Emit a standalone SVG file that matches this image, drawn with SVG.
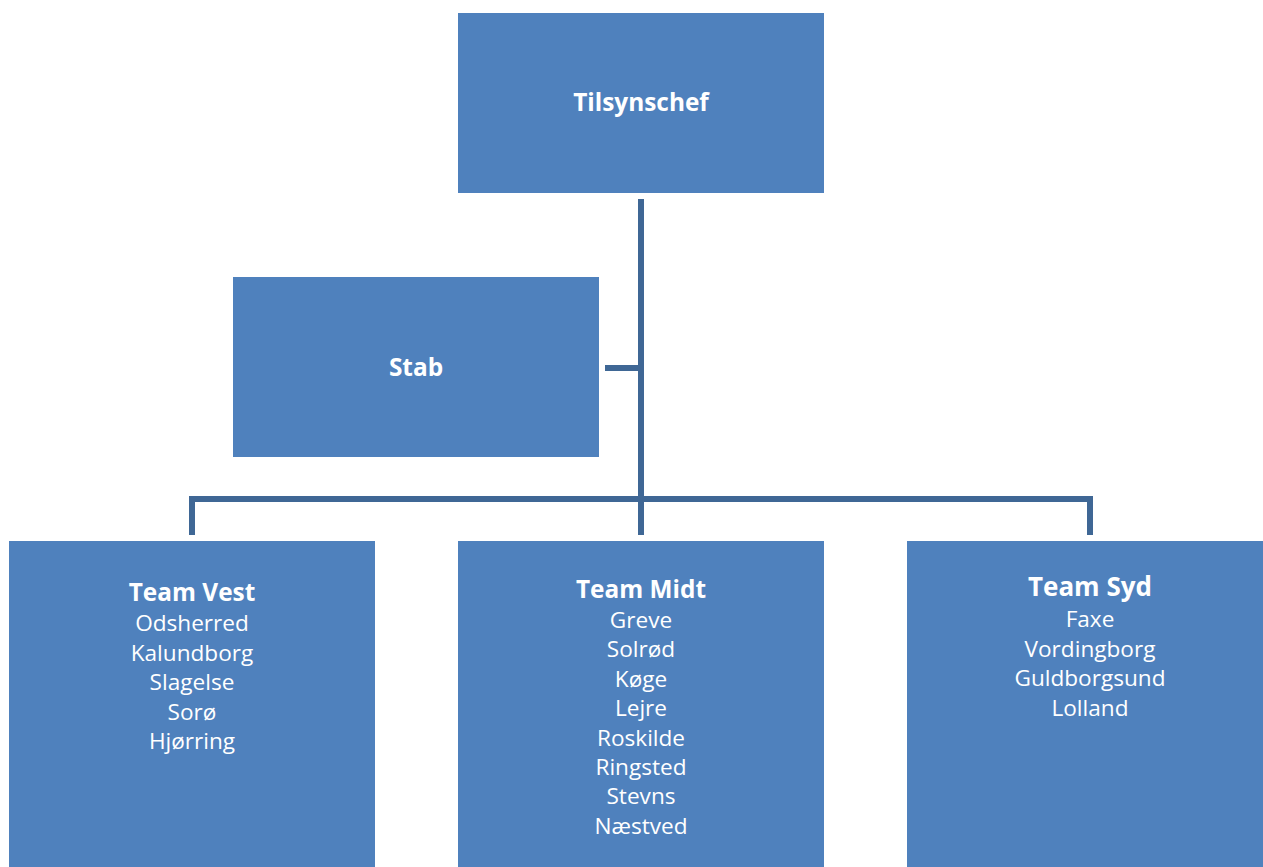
<svg xmlns="http://www.w3.org/2000/svg" width="1263" height="867" viewBox="0 0 1263 867">
<style>
.box{fill:#4F81BD;}
.t{font-family:"Open Sans","Liberation Sans",sans-serif;fill:#fff;text-anchor:middle;font-size:22.6px;}
.b{font-weight:bold;font-size:24.4px;}
.c{stroke:#3F6795;stroke-width:6;fill:none;stroke-linejoin:miter;}
</style>
<rect width="1263" height="867" fill="#fff"/>
<g id="connectors">
<path class="c" d="M641 199V535"/>
<path class="c" d="M605 368H641"/>
<path class="c" d="M192 535V499H1090V535"/>
</g>
<g id="tilsynschef">
<rect class="box" x="458" y="13" width="366" height="180"/>
<text class="t b" x="641" y="111">Tilsynschef</text>
</g>
<g id="stab">
<rect class="box" x="233" y="277" width="366" height="180"/>
<text class="t b" x="416" y="376">Stab</text>
</g>
<g id="team-vest">
<rect class="box" x="9" y="541" width="366" height="330"/>
<text class="t b" x="192" y="601">Team Vest</text>
<text class="t" x="192" y="631">Odsherred</text>
<text class="t" x="192" y="661">Kalundborg</text>
<text class="t" x="192" y="690">Slagelse</text>
<text class="t" x="192" y="720">Sorø</text>
<text class="t" x="192" y="749">Hjørring</text>
</g>
<g id="team-midt">
<rect class="box" x="458" y="541" width="366" height="330"/>
<text class="t b" x="641" y="598">Team Midt</text>
<text class="t" x="641" y="628">Greve</text>
<text class="t" x="641" y="657">Solrød</text>
<text class="t" x="641" y="687">Køge</text>
<text class="t" x="641" y="716">Lejre</text>
<text class="t" x="641" y="746">Roskilde</text>
<text class="t" x="641" y="775">Ringsted</text>
<text class="t" x="641" y="804">Stevns</text>
<text class="t" x="641" y="834">Næstved</text>
</g>
<g id="team-syd">
<rect class="box" x="907" y="541" width="366" height="330"/>
<text class="t b" x="1090" y="596" style="font-size:26px">Team Syd</text>
<text class="t" x="1090" y="627">Faxe</text>
<text class="t" x="1090" y="657">Vordingborg</text>
<text class="t" x="1090" y="686">Guldborgsund</text>
<text class="t" x="1090" y="716">Lolland</text>
</g>
</svg>
